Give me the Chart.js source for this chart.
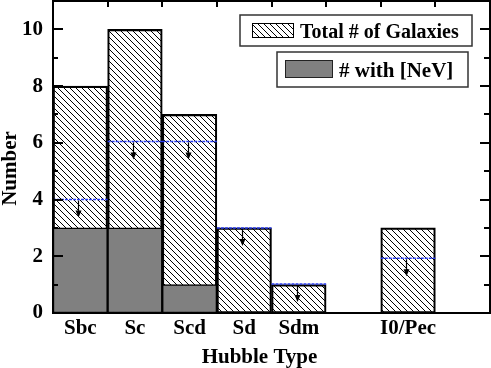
<!DOCTYPE html>
<html><head><meta charset="utf-8">
<script src="https://cdn.jsdelivr.net/npm/chart.js@4"></script>
<style>html,body{margin:0;padding:0;background:#fff;overflow:hidden}#c{display:block}</style>
</head><body>
<canvas id="c" width="491" height="368"></canvas>
<script>
// ---- data ----
const categories = ['Sbc','Sc','Scd','Sd','Sdm','I0/Pec'];
const categoryPositions = [1,2,3,4,5,7];
const totalGalaxies = [8,10,7,3,1,3];
const withNeV = [3,3,1,0,0,0];
const upperLimits = [4.0,6.05,6.05,3.0,1.02,1.93];
const yTickValues = [0,2,4,6,8,10];
const legendLabels = ['Total # of Galaxies','# with [NeV]'];
const xTitle = 'Hubble Type';
const yTitle = 'Number';

const FONT = '"Liberation Serif","Times New Roman",serif';
const canvas = document.getElementById('c');
const mainCtx = canvas.getContext('2d');

function makeHatch(){
  const s = 6;
  const c = document.createElement('canvas'); c.width = s; c.height = s;
  const g = c.getContext('2d');
  g.strokeStyle = '#000'; g.lineWidth = 1;
  g.beginPath();
  for (const k of [-s, 0, s]) { g.moveTo(k, 0); g.lineTo(k + s, s); }
  g.stroke();
  return mainCtx.createPattern(c, 'repeat');
}
const hatch = makeHatch();

const limitData = [];
upperLimits.forEach((v, i) => {
  const p = categoryPositions[i];
  limitData.push({x: p - 0.5, y: v}, {x: p + 0.5, y: v}, {x: p + 0.5, y: null});
});

const decor = {
  id: 'decor',
  afterDatasetsDraw(chart) {
    const {ctx, chartArea: a, scales: {x, y}} = chart;
    ctx.save();
    // arrows for upper limits
    ctx.strokeStyle = '#000'; ctx.fillStyle = '#000'; ctx.lineWidth = 1.2;
    upperLimits.forEach((v, i) => {
      const px = Math.round(x.getPixelForValue(categoryPositions[i])) - 1.5;
      const py = y.getPixelForValue(v) + 1;
      ctx.beginPath(); ctx.moveTo(px, py); ctx.lineTo(px, py + 12); ctx.stroke();
      ctx.beginPath(); ctx.moveTo(px - 3, py + 10); ctx.lineTo(px + 3, py + 10); ctx.lineTo(px, py + 17); ctx.closePath(); ctx.fill();
    });
    // frame
    ctx.lineWidth = 2; ctx.strokeStyle = '#000';
    ctx.strokeRect(a.left, a.top, a.right - a.left, a.bottom - a.top);
    // y ticks, left and right, inward
    for (let v = 1; v <= 10; v++) {
      const py = Math.round(y.getPixelForValue(v));
      const major = v % 2 === 0;
      ctx.beginPath();
      ctx.moveTo(a.left, py); ctx.lineTo(a.left + (major ? 10 : 5), py);
      ctx.moveTo(a.right, py); ctx.lineTo(a.right - (major ? 10 : 6), py);
      ctx.stroke();
    }
    // top ticks at bar boundaries
    for (let v = 1.5; v <= 7.5; v += 1) {
      const px = Math.round(x.getPixelForValue(v));
      ctx.beginPath(); ctx.moveTo(px, a.top); ctx.lineTo(px, a.top + 6); ctx.stroke();
    }
    // axis titles
    ctx.fillStyle = '#000';
    ctx.font = 'bold 21px ' + FONT;
    ctx.textAlign = 'center'; ctx.textBaseline = 'alphabetic';
    ctx.fillText(xTitle, 259.5, 363);
    ctx.save();
    ctx.translate(15.5, 168.5); ctx.rotate(-Math.PI / 2);
    ctx.fillText(yTitle, 0, 0);
    ctx.restore();
    // legend
    ctx.textAlign = 'left';
    ctx.lineWidth = 1.5; ctx.strokeStyle = '#333';
    ctx.fillStyle = '#fff';
    ctx.fillRect(240, 15, 232, 31); ctx.strokeRect(240, 15, 232, 31);
    ctx.fillStyle = hatch; ctx.fillRect(252, 23, 42, 15);
    ctx.lineWidth = 1; ctx.strokeStyle = '#000'; ctx.strokeRect(252.5, 23.5, 41, 14);
    ctx.font = 'bold 20px ' + FONT;
    ctx.fillStyle = '#000'; ctx.fillText(legendLabels[0], 300, 38);
    ctx.lineWidth = 1.5; ctx.strokeStyle = '#333';
    ctx.fillStyle = '#fff';
    ctx.fillRect(277, 52, 191, 35); ctx.strokeRect(277, 52, 191, 35);
    ctx.fillStyle = '#808080'; ctx.fillRect(285, 60, 48, 18);
    ctx.lineWidth = 1; ctx.strokeStyle = '#222'; ctx.strokeRect(285.5, 60.5, 47, 17);
    ctx.font = 'bold 21px ' + FONT;
    ctx.fillStyle = '#000'; ctx.fillText(legendLabels[1], 339, 77);
    ctx.restore();
  }
};

new Chart(canvas, {
  type: 'bar',
  data: {
    datasets: [
      {
        type: 'line',
        data: limitData,
        borderColor: '#2a3cf0',
        borderWidth: 1.5,
        borderDash: [3, 1],
        pointRadius: 0,
        spanGaps: false,
        order: 0
      },
      {
        data: withNeV.map((v, i) => ({x: categoryPositions[i], y: v > 0 ? v : null})),
        backgroundColor: '#808080',
        borderColor: '#000',
        borderWidth: 1.5,
        borderSkipped: false,
        grouped: false,
        barPercentage: 1,
        categoryPercentage: 1,
        order: 1
      },
      {
        data: totalGalaxies.map((v, i) => ({x: categoryPositions[i], y: v})),
        backgroundColor: hatch,
        borderColor: '#000',
        borderWidth: 1.5,
        borderSkipped: false,
        grouped: false,
        barPercentage: 1,
        categoryPercentage: 1,
        order: 2
      }
    ]
  },
  options: {
    responsive: false,
    animation: false,
    devicePixelRatio: 1,
    layout: {padding: {top: 1, right: 1, left: 0, bottom: 0}},
    plugins: {legend: {display: false}, tooltip: {enabled: false}},
    scales: {
      x: {
        type: 'linear',
        min: 0.5, max: 8.5,
        offset: false,
        grid: {display: false, drawTicks: false},
        border: {display: false},
        afterBuildTicks: s => { s.ticks = categoryPositions.map(v => ({value: v})); },
        afterFit: s => { s.height = 55; s.paddingLeft = 0; s.paddingRight = 0; },
        ticks: {
          autoSkip: false, maxRotation: 0,
          padding: 3,
          color: '#000',
          font: {family: FONT, size: 21, weight: 'bold'},
          callback: v => categories[categoryPositions.indexOf(v)]
        }
      },
      y: {
        type: 'linear',
        min: 0, max: 11,
        grid: {display: false, drawTicks: false},
        border: {display: false},
        afterBuildTicks: s => { s.ticks = yTickValues.map(v => ({value: v})); },
        afterFit: s => { s.width = 53; s.paddingTop = 0; s.paddingBottom = 0; },
        ticks: {
          padding: 10,
          color: '#000',
          font: {family: FONT, size: 21, weight: 'bold'}
        }
      }
    }
  },
  plugins: [decor]
});
</script>
</body></html>
